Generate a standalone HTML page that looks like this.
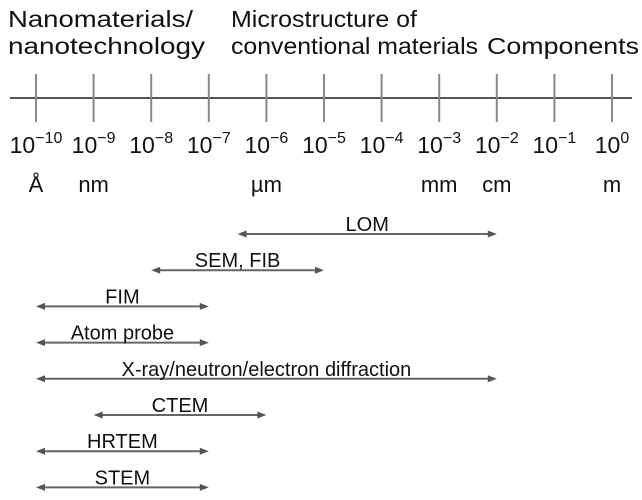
<!DOCTYPE html>
<html><head><meta charset="utf-8"><style>
body{margin:0;background:#fff;}
svg text{font-family:"Liberation Sans",sans-serif;fill:#111;}
</style></head><body>
<svg id="c" width="642" height="495">
<g>
<text x="8" y="27" font-size="23" textLength="185" lengthAdjust="spacingAndGlyphs">Nanomaterials/</text>
<text x="8" y="54" font-size="23" textLength="197" lengthAdjust="spacingAndGlyphs">nanotechnology</text>
<text x="231" y="27" font-size="23" textLength="186" lengthAdjust="spacingAndGlyphs">Microstructure of</text>
<text x="231" y="54" font-size="23" textLength="247" lengthAdjust="spacingAndGlyphs">conventional materials</text>
<text x="487" y="54" font-size="23" textLength="152" lengthAdjust="spacingAndGlyphs">Components</text>
</g>
<line x1="10" y1="98" x2="632" y2="98" stroke="#555" stroke-width="2"/>
<g id="ticks"></g><g id="arrows"></g>
</svg>
<script>
const exps=[-10,-9,-8,-7,-6,-5,-4,-3,-2,-1,0];
const units=[["Å",-10],["nm",-9],["µm",-6],["mm",-3],["cm",-2],["m",0]];
const techNames=["LOM","SEM, FIB","FIM","Atom probe","X-ray/neutron/electron diffraction","CTEM","HRTEM","STEM"];
const techMin=[-6.5,-8,-10,-10,-10,-9,-10,-10];
const techMax=[-2,-5,-7,-7,-2,-6,-7,-7];
const NS="http://www.w3.org/2000/svg";
const X=e=>36+(e+10)*57.6;
function mk(t,a,p){const el=document.createElementNS(NS,t);for(const k in a)el.setAttribute(k,a[k]);p.appendChild(el);return el;}
const tg=document.getElementById('ticks');
exps.forEach(e=>{
 const l=mk('line',{x1:X(e),x2:X(e),y1:74,y2:122,stroke:'#888','stroke-width':2},tg);
 
 
 const t=mk('text',{x:X(e),y:153,'font-size':23,'text-anchor':'middle'},tg);
 
 
 t.textContent='10';
 const s=mk('tspan',{dy:-10,'font-size':16},t);s.textContent=(e<0?'−':'')+Math.abs(e);
});
units.forEach(u=>{
 const t=mk('text',{x:X(u[1]),y:192,'font-size':22,'text-anchor':'middle'},tg);
 
 
 t.textContent=u[0];
});
const ag=document.getElementById('arrows');
techNames.forEach((n,i)=>{
 const y=234+i*36.2,x1=X(techMin[i]),x2=X(techMax[i]);
 const g=mk('g',{},ag);
 
 
 mk('line',{x1:x1+6,x2:x2-6,y1:y,y2:y,stroke:'#666','stroke-width':2},g);
 mk('polygon',{points:`${x1},${y} ${x1+9},${y-3.5} ${x1+9},${y+3.5}`,fill:'#555'},g);
 mk('polygon',{points:`${x2},${y} ${x2-9},${y-3.5} ${x2-9},${y+3.5}`,fill:'#555'},g);
 const t=mk('text',{x:(x1+x2)/2,y:y-3,'font-size':20,'text-anchor':'middle'},g);
 t.textContent=n;
});
</script>
</body></html>
